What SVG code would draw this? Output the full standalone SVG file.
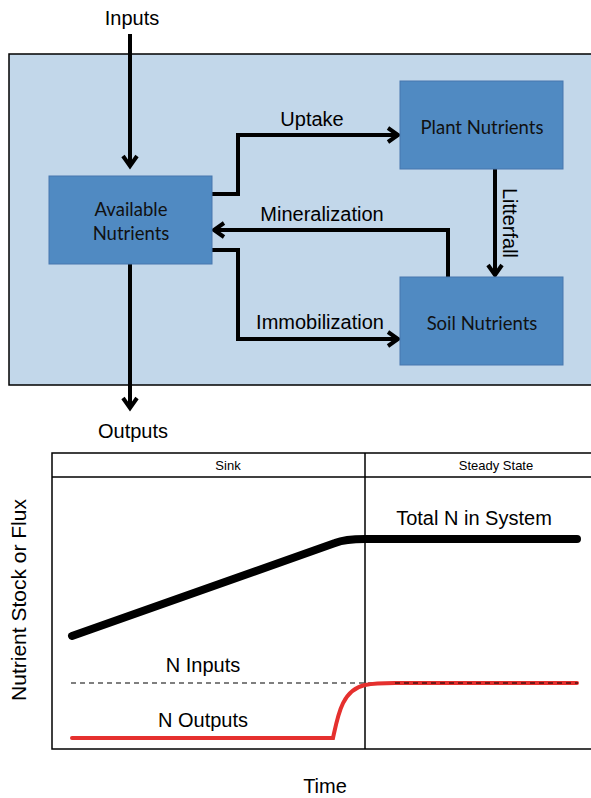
<svg xmlns="http://www.w3.org/2000/svg" width="591" height="798" viewBox="0 0 591 798">
<style>
.node{fill:#508AC2;stroke:#4677AE;stroke-width:1}
.nt{font-family:Lato,"Noto Sans",sans-serif;font-size:18.5px;fill:#111;text-anchor:middle}
.lbl{font-family:"Liberation Sans",Arial,sans-serif;font-size:20px;fill:#000;text-anchor:middle}
.con{fill:none;stroke:#000;stroke-width:4}
.small{font-family:"Liberation Sans",Arial,sans-serif;font-size:13px;fill:#000;text-anchor:middle}
</style>
<defs>
<marker id="ah" markerUnits="userSpaceOnUse" markerWidth="20" markerHeight="20" viewBox="-12 -10 14 20" refX="0" refY="0" orient="auto">
<path d="M-10,-7 L0,0 L-10,7" fill="none" stroke="#000" stroke-width="4"/>
</marker>
</defs>
<rect x="9" y="54" width="590" height="331" fill="#C2D7EA" stroke="#000" stroke-width="1.5"/>
<g id="connectors">
<path class="con" d="M130,34 V166" marker-end="url(#ah)"/>
<path class="con" d="M130,264 V408" marker-end="url(#ah)"/>
<path class="con" d="M212,194 H238 V135 H398" marker-end="url(#ah)"/>
<path class="con" d="M448,277 V230 H214" marker-end="url(#ah)"/>
<path class="con" d="M212,250 H238 V339 H398" marker-end="url(#ah)"/>
<path class="con" d="M495,169 V275" marker-end="url(#ah)"/>
</g>
<g id="labels">
<text class="lbl" x="132" y="25">Inputs</text>
<text class="lbl" x="133" y="438">Outputs</text>
<text class="lbl" x="312" y="126">Uptake</text>
<text class="lbl" x="322" y="221">Mineralization</text>
<text class="lbl" x="320" y="329">Immobilization</text>
<text class="lbl" transform="translate(503,223) rotate(90)">Litterfall</text>
</g>
<g id="available">
<rect class="node" x="49" y="176" width="163" height="88"/>
<text class="nt" x="131" y="216">Available</text>
<text class="nt" x="131" y="240">Nutrients</text>
</g>
<g id="plant">
<rect class="node" x="400" y="81" width="163" height="88"/>
<text class="nt" x="482" y="134">Plant Nutrients</text>
</g>
<g id="soil">
<rect class="node" x="400" y="277" width="163" height="88"/>
<text class="nt" x="482" y="330">Soil Nutrients</text>
</g>
<g id="chart">
<rect x="52" y="453" width="545" height="296" fill="#fff" stroke="#000" stroke-width="1.5"/>
<line x1="52" y1="477" x2="591" y2="477" stroke="#000" stroke-width="1.5"/>
<line x1="365" y1="453" x2="365" y2="749" stroke="#000" stroke-width="1.5"/>
<text class="small" x="228" y="470">Sink</text>
<text class="small" x="496" y="470">Steady State</text>
<path d="M72,636 L335,543 Q345,539 365,539 H577" fill="none" stroke="#000" stroke-width="8" stroke-linecap="round" stroke-linejoin="round"/>
<line x1="71" y1="683" x2="578" y2="683" stroke="#000" stroke-width="1.2" stroke-dasharray="5,4"/>
<path d="M72,738 H333 C338,715 342,690 365,685 C375,683 380,683 395,683 H577" fill="none" stroke="#E5302E" stroke-width="4" stroke-linecap="round"/>
<line x1="395" y1="683" x2="578" y2="683" stroke="#000" stroke-width="1.2" stroke-dasharray="5,4"/>
<text class="lbl" x="474" y="525">Total N in System</text>
<text class="lbl" x="203" y="672">N Inputs</text>
<text class="lbl" x="203" y="727">N Outputs</text>
<text class="lbl" style="font-size:21px" transform="translate(26,600) rotate(-90)">Nutrient Stock or Flux</text>
<text class="lbl" x="325" y="793">Time</text>
</g>
</svg>
